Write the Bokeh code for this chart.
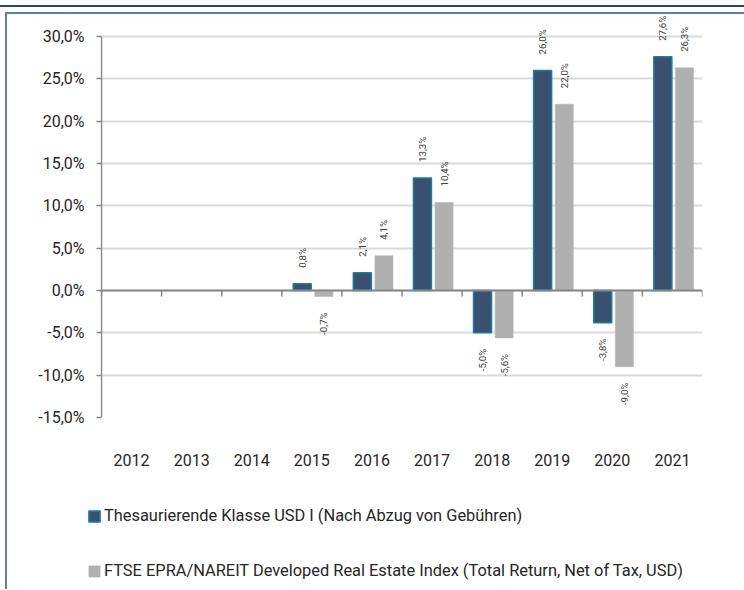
import math
from bokeh.plotting import figure
from bokeh.layouts import column
from bokeh.models import (ColumnDataSource, FixedTicker, Span, Legend, LegendItem, Range1d)
from bokeh.core.properties import value
from bokeh.embed import file_html
from bokeh.resources import INLINE

# ---------------- data ----------------
years = ["2012", "2013", "2014", "2015", "2016", "2017", "2018", "2019", "2020", "2021"]
fund = [None, None, None, 0.8, 2.1, 13.3, -5.0, 26.0, -3.8, 27.6]
bench = [None, None, None, -0.7, 4.1, 10.4, -5.6, 22.0, -9.0, 26.3]
y_ticks = [-15, -10, -5, 0, 5, 10, 15, 20, 25, 30]
y_tick_labels = ["-15,0%", "-10,0%", "-5,0%", "0,0%", "5,0%", "10,0%",
                 "15,0%", "20,0%", "25,0%", "30,0%"]
fund_name = "Thesaurierende Klasse USD I (Nach Abzug von Gebühren)"
bench_name = "FTSE EPRA/NAREIT Developed Real Estate Index (Total Return, Net of Tax, USD)"

# ---------------- style ----------------
FONT = "Roboto"
W = 737
H_CHART = 466
H_LEG = 109
DARK = "#3a5070"
DARK_LINE = "#1a7f9e"
GRAY = "#b0b0b0"
AXIS = "#878787"
GRID = "#d9d9d9"
TXT = "#262626"
LBL = "#404040"
BAR_W = 0.30
OFF_FUND = 0.34
OFF_BENCH = 0.70
n = len(years)

p = figure(width=W, height=H_CHART,
           x_range=Range1d(-10 / 601, n), y_range=Range1d(y_ticks[0], y_ticks[-1] + 2.6),
           output_backend="svg", toolbar_location=None,
           min_border_left=93, min_border_right=42, min_border_top=0, min_border_bottom=63)
p.outline_line_color = None
p.background_fill_color = "white"
p.border_fill_color = "white"


def make_sources(vals, offset):
    pos = dict(x=[], top=[], label=[])
    neg = dict(x=[], top=[], label=[])
    allb = dict(x=[], top=[])
    for i, v in enumerate(vals):
        if v is None:
            continue
        d = pos if v >= 0 else neg
        d["x"].append(i + offset)
        d["top"].append(v)
        d["label"].append(f"{v:.1f}".replace(".", ",") + "%")
        allb["x"].append(i + offset)
        allb["top"].append(v)
    return ColumnDataSource(allb), ColumnDataSource(pos), ColumnDataSource(neg)


bars_f, pos_f, neg_f = make_sources(fund, OFF_FUND)
bars_b, pos_b, neg_b = make_sources(bench, OFF_BENCH)

# grid / axes
p.xgrid.grid_line_color = None
p.ygrid.ticker = FixedTicker(ticks=y_ticks)
p.ygrid.grid_line_color = GRID
p.ygrid.grid_line_width = 2

p.yaxis.ticker = FixedTicker(ticks=y_ticks)
p.yaxis.major_label_overrides = dict(zip(y_ticks, y_tick_labels))
p.yaxis.axis_line_color = None
p.yaxis.major_tick_line_color = AXIS
p.yaxis.major_tick_line_width = 1.5
p.yaxis.major_tick_out = 4
p.yaxis.major_tick_in = 1
p.yaxis.minor_tick_line_color = None
p.yaxis.major_label_standoff = 12
p.yaxis.major_label_text_font = FONT
p.yaxis.major_label_text_font_size = "16px"
p.yaxis.major_label_text_color = TXT

centers = [i + 0.5 for i in range(n)]
p.xaxis.ticker = FixedTicker(ticks=centers)
p.xaxis.major_label_overrides = dict(zip(centers, years))
p.xaxis.axis_line_color = None
p.xaxis.major_tick_line_color = None
p.xaxis.minor_tick_line_color = None
p.xaxis.major_tick_out = 0
p.xaxis.major_tick_in = 0
p.xaxis.major_label_standoff = 36
p.xaxis.major_label_text_font = FONT
p.xaxis.major_label_text_font_size = "16px"
p.xaxis.major_label_text_color = TXT

# vertical axis line from the lowest to the highest tick
p.segment(x0=[0], y0=[y_ticks[0]], x1=[0], y1=[y_ticks[-1]], line_color=AXIS, line_width=1.5)

# bars
r_f = p.vbar(x="x", top="top", bottom=0, width=BAR_W, source=bars_f,
             fill_color=DARK, line_color=DARK_LINE, line_width=1.5)
r_b = p.vbar(x="x", top="top", bottom=0, width=BAR_W, source=bars_b,
             fill_color=GRAY, line_color=GRAY, line_width=0.5)

# zero line with category boundary ticks
p.add_layout(Span(location=0, dimension="width", line_color=AXIS, line_width=2))
bounds = list(range(n + 1))
p.segment(x0=bounds, y0=[0] * len(bounds), x1=bounds, y1=[-0.7] * len(bounds),
          line_color=AXIS, line_width=1.5)

# data labels
for src, align, off in [(pos_f, "left", -16), (pos_b, "left", -16),
                        (neg_f, "right", 16), (neg_b, "right", 16)]:
    p.text(x="x", y="top", text="label", source=src, angle=math.pi / 2,
           text_align=align, text_baseline="middle", y_offset=off,
           text_font=value(FONT), text_font_size="9.6px", text_color=LBL)

# legend (separate strip below the chart)
leg = figure(width=W, height=H_LEG, x_range=Range1d(0, 1), y_range=Range1d(0, 1),
             x_axis_type=None, y_axis_type=None, output_backend="svg",
             toolbar_location=None,
             min_border_left=80, min_border_top=26, min_border_right=0, min_border_bottom=0)
leg.frame_align = False
leg.outline_line_color = None
lf = leg.vbar(x=[-50], top=[-5], bottom=[-6], width=0.1,
              fill_color=DARK, line_color=DARK_LINE, line_width=1.5)
lb = leg.vbar(x=[-50], top=[-5], bottom=[-6], width=0.1,
              fill_color=GRAY, line_color=GRAY, line_width=0.5)
legend = Legend(items=[LegendItem(label=fund_name, renderers=[lf]),
                       LegendItem(label=bench_name, renderers=[lb])],
                location="top_left", orientation="vertical",
                spacing=36, padding=0, margin=0,
                border_line_color=None, background_fill_alpha=0,
                glyph_width=14, glyph_height=14, label_standoff=3, label_height=14,
                label_text_font=FONT, label_text_font_size="16.4px",
                label_text_line_height=0.75, label_text_color=TXT)
leg.add_layout(legend)

page = column(p, leg, spacing=0,
              styles={"margin-left": "5px", "margin-top": "12px",
                      "border-top": "2px solid #5b80a8",
                      "border-left": "2px solid #5b80a8",
                      "box-shadow": "0 0 0 5px #ffffff, 0 -2px 0 5px #2a4468"})

open("out.html", "w").write(file_html(page, INLINE))
